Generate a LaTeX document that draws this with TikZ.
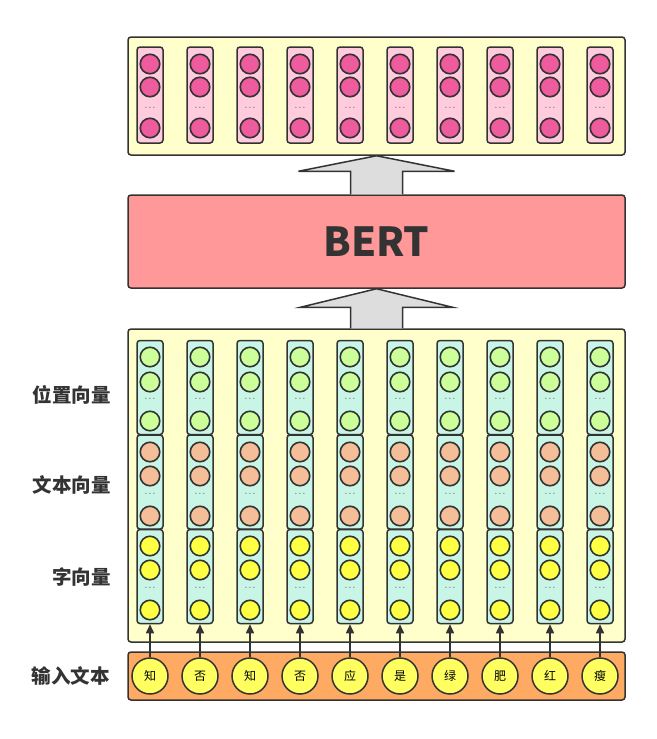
\documentclass[tikz,border=0pt]{standalone}
\usepackage{fontspec}
\newfontfamily\cjk{Noto Sans CJK SC}
\usepackage{tikz}
\usetikzlibrary{arrows.meta, positioning, calc}

\definecolor{paleyellow}{HTML}{FFFFCC}
\definecolor{edgegray}{HTML}{333333}
\definecolor{pinkcol}{HTML}{FFCCDD}
\definecolor{pinkdot}{HTML}{EE5C9E}
\definecolor{mintcol}{HTML}{C8F5E6}
\definecolor{greendot}{HTML}{CCFF99}
\definecolor{peachdot}{HTML}{F4BE98}
\definecolor{yellowdot}{HTML}{FFFF44}
\definecolor{inputorange}{HTML}{FFAA62}
\definecolor{bertred}{HTML}{FF9999}
\definecolor{arrowgray}{HTML}{DDDDDD}

\tikzset{
  panel/.style={draw=edgegray, line width=1.5pt, rounded corners=3pt,
    fill=paleyellow, minimum width=497pt, inner sep=0pt},
  column/.style={draw=edgegray, line width=1.5pt, rounded corners=3pt,
    minimum width=26pt, minimum height=94pt, inner sep=0pt},
  dot/.style={circle, draw=edgegray, line width=1.6pt, minimum size=19.5pt,
    inner sep=0pt},
  dots/.style={font=\bfseries\fontsize{8}{8}\selectfont, text=black!55, inner sep=0pt},
  lbl/.style={font=\cjk\bfseries\fontsize{19.5}{19.5}\selectfont, text=edgegray},
  word/.style={circle, draw=edgegray, line width=1.5pt, fill=yellowdot!85!white,
    minimum size=36pt, inner sep=0pt, font=\cjk\fontsize{12}{12}\selectfont},
  bigarrow/.style={draw=edgegray, line width=1.5pt, fill=arrowgray}
}

\begin{document}
\begin{tikzpicture}[x=1pt, y=-1pt]
  \useasboundingbox (0,0) rectangle (656,739);

  % output layer
  \node[panel, minimum height=118pt] (top) at (376.5,96) {};
  \foreach \i in {0,...,9}{
    \pgfmathsetmacro{\x}{150+50*\i}
    \node[column, fill=pinkcol, minimum height=96pt] (p\i) at (\x,95) {};
    \foreach \yy/\k in {64/a,87/b,128/c}
      \node[dot, fill=pinkdot] (p\i\k) at (\x,\yy) {};
    \node[dots] at (\x,108) {.\,.\,.};
  }

  % bert
  \node[draw=edgegray, line width=1.5pt, rounded corners=3pt, fill=bertred,
        minimum width=497pt, minimum height=93pt,
        font=\cjk\bfseries\fontsize{40}{40}\selectfont, text=edgegray]
        (bert) at (376.5,241.5) {BERT};

  % embeddings
  \node[panel, minimum height=313pt] (emb) at (376.5,485.5) {};
  \foreach \i in {0,...,9}{
    \pgfmathsetmacro{\x}{150+50*\i}
    \node[column, fill=mintcol] (g\i) at (\x,387.5) {};
    \node[column, fill=mintcol] (o\i) at (\x,482) {};
    \node[column, fill=mintcol] (y\i) at (\x,576.5) {};
    \foreach \yy/\k in {357/a,382/b,421/c}
      \node[dot, fill=greendot] (g\i\k) at (\x,\yy) {};
    \foreach \yy/\k in {452/a,476/b,516/c}
      \node[dot, fill=peachdot] (o\i\k) at (\x,\yy) {};
    \foreach \yy/\k in {546/a,570/b,610/c}
      \node[dot, fill=yellowdot] (y\i\k) at (\x,\yy) {};
    \node[dots] at (\x,399) {.\,.\,.};
    \node[dots] at (\x,494) {.\,.\,.};
    \node[dots] at (\x,588) {.\,.\,.};
  }

  % input text
  \node[draw=edgegray, line width=1.5pt, rounded corners=3pt, fill=inputorange,
        minimum width=497pt, minimum height=48pt] (inp) at (376.5,676) {};
  \foreach \c [count=\i from 0] in {知,否,知,否,应,是,绿,肥,红,瘦}{
    \pgfmathsetmacro{\x}{150+50*\i}
    \node[word] (w\i) at (\x,676) {\c};
    \draw[-{Triangle[length=9pt, width=8pt]}, line width=1.5pt, edgegray]
      (w\i) -- (y\i);
  }

  % block arrows
  \draw[bigarrow] ([xshift=-26pt]bert.north) -- ([xshift=-26pt, yshift=23pt]bert.north)
    -- ([xshift=-78pt, yshift=23pt]bert.north) -- (top.south)
    -- ([xshift=78pt, yshift=23pt]bert.north) -- ([xshift=26pt, yshift=23pt]bert.north)
    -- ([xshift=26pt]bert.north);
  \draw[bigarrow] ([xshift=-26pt]emb.north) -- ([xshift=-26pt, yshift=21pt]emb.north)
    -- ([xshift=-76pt, yshift=21pt]emb.north) -- (bert.south)
    -- ([xshift=76pt, yshift=21pt]emb.north) -- ([xshift=26pt, yshift=21pt]emb.north)
    -- ([xshift=26pt]emb.north);

  % row labels
  \node[lbl, left=22pt of g0, yshift=-7pt] {位置向量};
  \node[lbl, left=22pt of o0, yshift=-3pt] {文本向量};
  \node[lbl, left=22pt of y0, yshift=-1pt] {字向量};
  \node[lbl, left=18pt of w0] {输入文本};
\end{tikzpicture}
\end{document}
